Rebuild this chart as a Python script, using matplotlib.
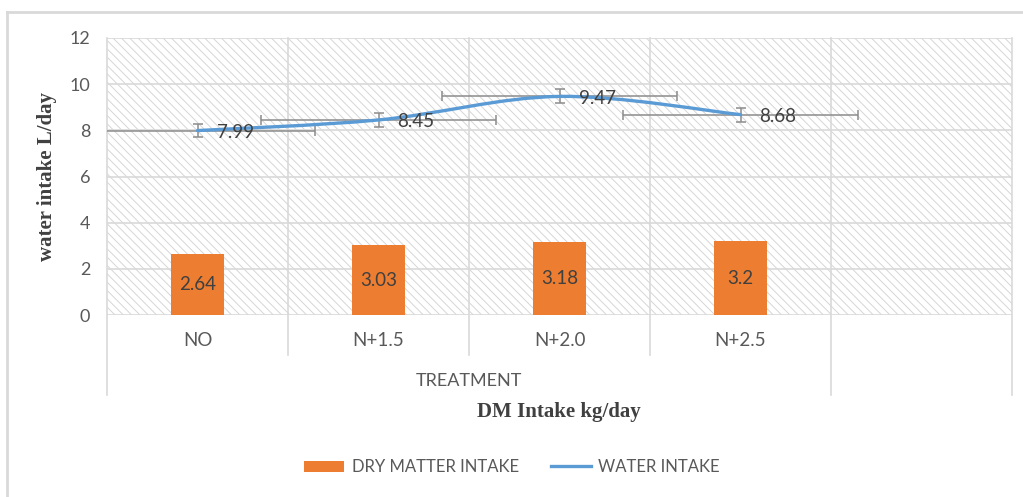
import matplotlib
matplotlib.use("Agg")
import matplotlib.pyplot as plt
import numpy as np
from matplotlib.path import Path
from matplotlib.patches import PathPatch, Rectangle, Patch
from matplotlib.lines import Line2D
import matplotlib.transforms as mtransforms

# ---- data ----
categories = ["NO", "N+1.5", "N+2.0", "N+2.5", ""]
group_label = "TREATMENT"
dm_intake = [2.64, 3.03, 3.18, 3.2]
water_intake = [7.99, 8.45, 9.47, 8.68]
water_yerr = [0.3, 0.3, 0.3, 0.3]
water_xerr = [0.65, 0.65, 0.65, 0.65]
yticks = [0, 2, 4, 6, 8, 10, 12]

ORANGE = "#ED7D31"
BLUE = "#5B9BD5"
GRID = "#d9d9d9"
TXT = "#595959"
LBL = "#404040"
FONT = "Lato"
plt.rcParams["hatch.linewidth"] = 0.7

fig = plt.figure(figsize=(10.23, 4.97), dpi=100)
ax = fig.add_axes([107/1023, 182/497, 905/1023, 277/497])
ax.set_xlim(-0.5, len(categories) - 0.5)
ax.set_ylim(yticks[0], yticks[-1])
for s in ax.spines.values():
    s.set_visible(False)

# hatched plot background
ax.add_patch(Rectangle((0, 0), 1, 1, transform=ax.transAxes, facecolor="white",
                       edgecolor="#d6d6d6", hatch="\\\\\\\\", lw=0, zorder=0))

# horizontal gridlines
for t in yticks:
    ax.axhline(t, color=GRID, lw=1.2, zorder=1)

# category boundary lines, extending into multi-level axis
trans = mtransforms.blended_transform_factory(ax.transData, ax.transAxes)
n = len(categories)
for i in range(n + 1):
    xb = i - 0.5
    long_line = i in (0, n - 1, n)
    ybot = -80/277 if long_line else -40/277
    ax.add_line(Line2D([xb, xb], [1, ybot], transform=trans, color=GRID, lw=1.2,
                       clip_on=False, zorder=1))

# bars
xb_pos = np.arange(len(dm_intake))
ax.bar(xb_pos, dm_intake, width=0.29, color=ORANGE, zorder=2)
for x, v in zip(xb_pos, dm_intake):
    ax.text(x, v / 2, f"{v:g}", ha="center", va="center", fontsize=13.5,
            color=LBL, family=FONT, zorder=5)

# error bars
ax.errorbar(xb_pos, water_intake, xerr=water_xerr, yerr=water_yerr, fmt="none",
            ecolor="#8c8c8c", elinewidth=1.1, capsize=3.5, capthick=1.1, zorder=3)

# smooth line (Catmull-Rom -> Bezier)
xs = list(xb_pos.astype(float))
ys = list(water_intake)
P = np.column_stack([xs, ys])
Pe = np.vstack([P[0], P, P[-1]])
verts = [tuple(P[0])]
codes = [Path.MOVETO]
for i in range(1, len(Pe) - 2):
    p0, p1, p2, p3 = Pe[i-1], Pe[i], Pe[i+1], Pe[i+2]
    c1 = p1 + (p2 - p0) / 6
    c2 = p2 - (p3 - p1) / 6
    verts += [tuple(c1), tuple(c2), tuple(p2)]
    codes += [Path.CURVE4] * 3
ax.add_patch(PathPatch(Path(verts, codes), facecolor="none", edgecolor=BLUE,
                       lw=2.4, capstyle="round", zorder=4))
for x, v in zip(xs, ys):
    ax.annotate(f"{v:g}", (x, v), xytext=(19, -2), textcoords="offset pixels",
                ha="left", va="center", fontsize=13.5, color=LBL, family=FONT, zorder=6)

# y axis
ax.set_yticks(yticks)
ax.set_yticklabels([str(t) for t in yticks], fontsize=13, color=TXT, family=FONT)
ax.tick_params(axis="y", length=0, pad=12)
ax.set_xticks([])
fig.text(47/1023, 1 - 176.5/497, "water intake L/day", rotation=90,
         ha="center", va="center", fontsize=15, fontweight="bold",
         family="Liberation Serif", color=LBL)

# category labels
for i, c in enumerate(categories):
    ax.text(i, -25/277, c, transform=trans, ha="center", va="center",
            fontsize=13.5, color=TXT, family=FONT)
ax.text((len(categories) - 2) / 2, -66/277, group_label, transform=trans,
        ha="center", va="center", fontsize=13, color=TXT, family=FONT)

# x axis title
fig.text(559/1023, 1 - 412/497, "DM Intake kg/day", ha="center", va="center",
         fontsize=15, fontweight="bold", family="Liberation Serif", color=LBL)

# legend
handles = [Patch(facecolor=ORANGE, edgecolor="none"),
           Line2D([], [], color=BLUE, lw=2.4)]
leg = fig.legend(handles, ["DRY MATTER INTAKE", "WATER INTAKE"], loc="center",
                 bbox_to_anchor=(512/1023, 1 - 467/497), ncol=2, frameon=False,
                 prop={"family": FONT, "size": 12}, handlelength=2.4,
                 handleheight=0.65, handletextpad=0.45, columnspacing=1.9)
for t in leg.get_texts():
    t.set_color(TXT)

# chart border (left and top)
fig.add_artist(Line2D([7/1023, 7/1023], [0, 1 - 12/497], transform=fig.transFigure,
                      color=GRID, lw=2))
fig.add_artist(Line2D([7/1023, 1], [1 - 12/497, 1 - 12/497], transform=fig.transFigure,
                      color=GRID, lw=2))

fig.savefig("out.png", dpi=100)
